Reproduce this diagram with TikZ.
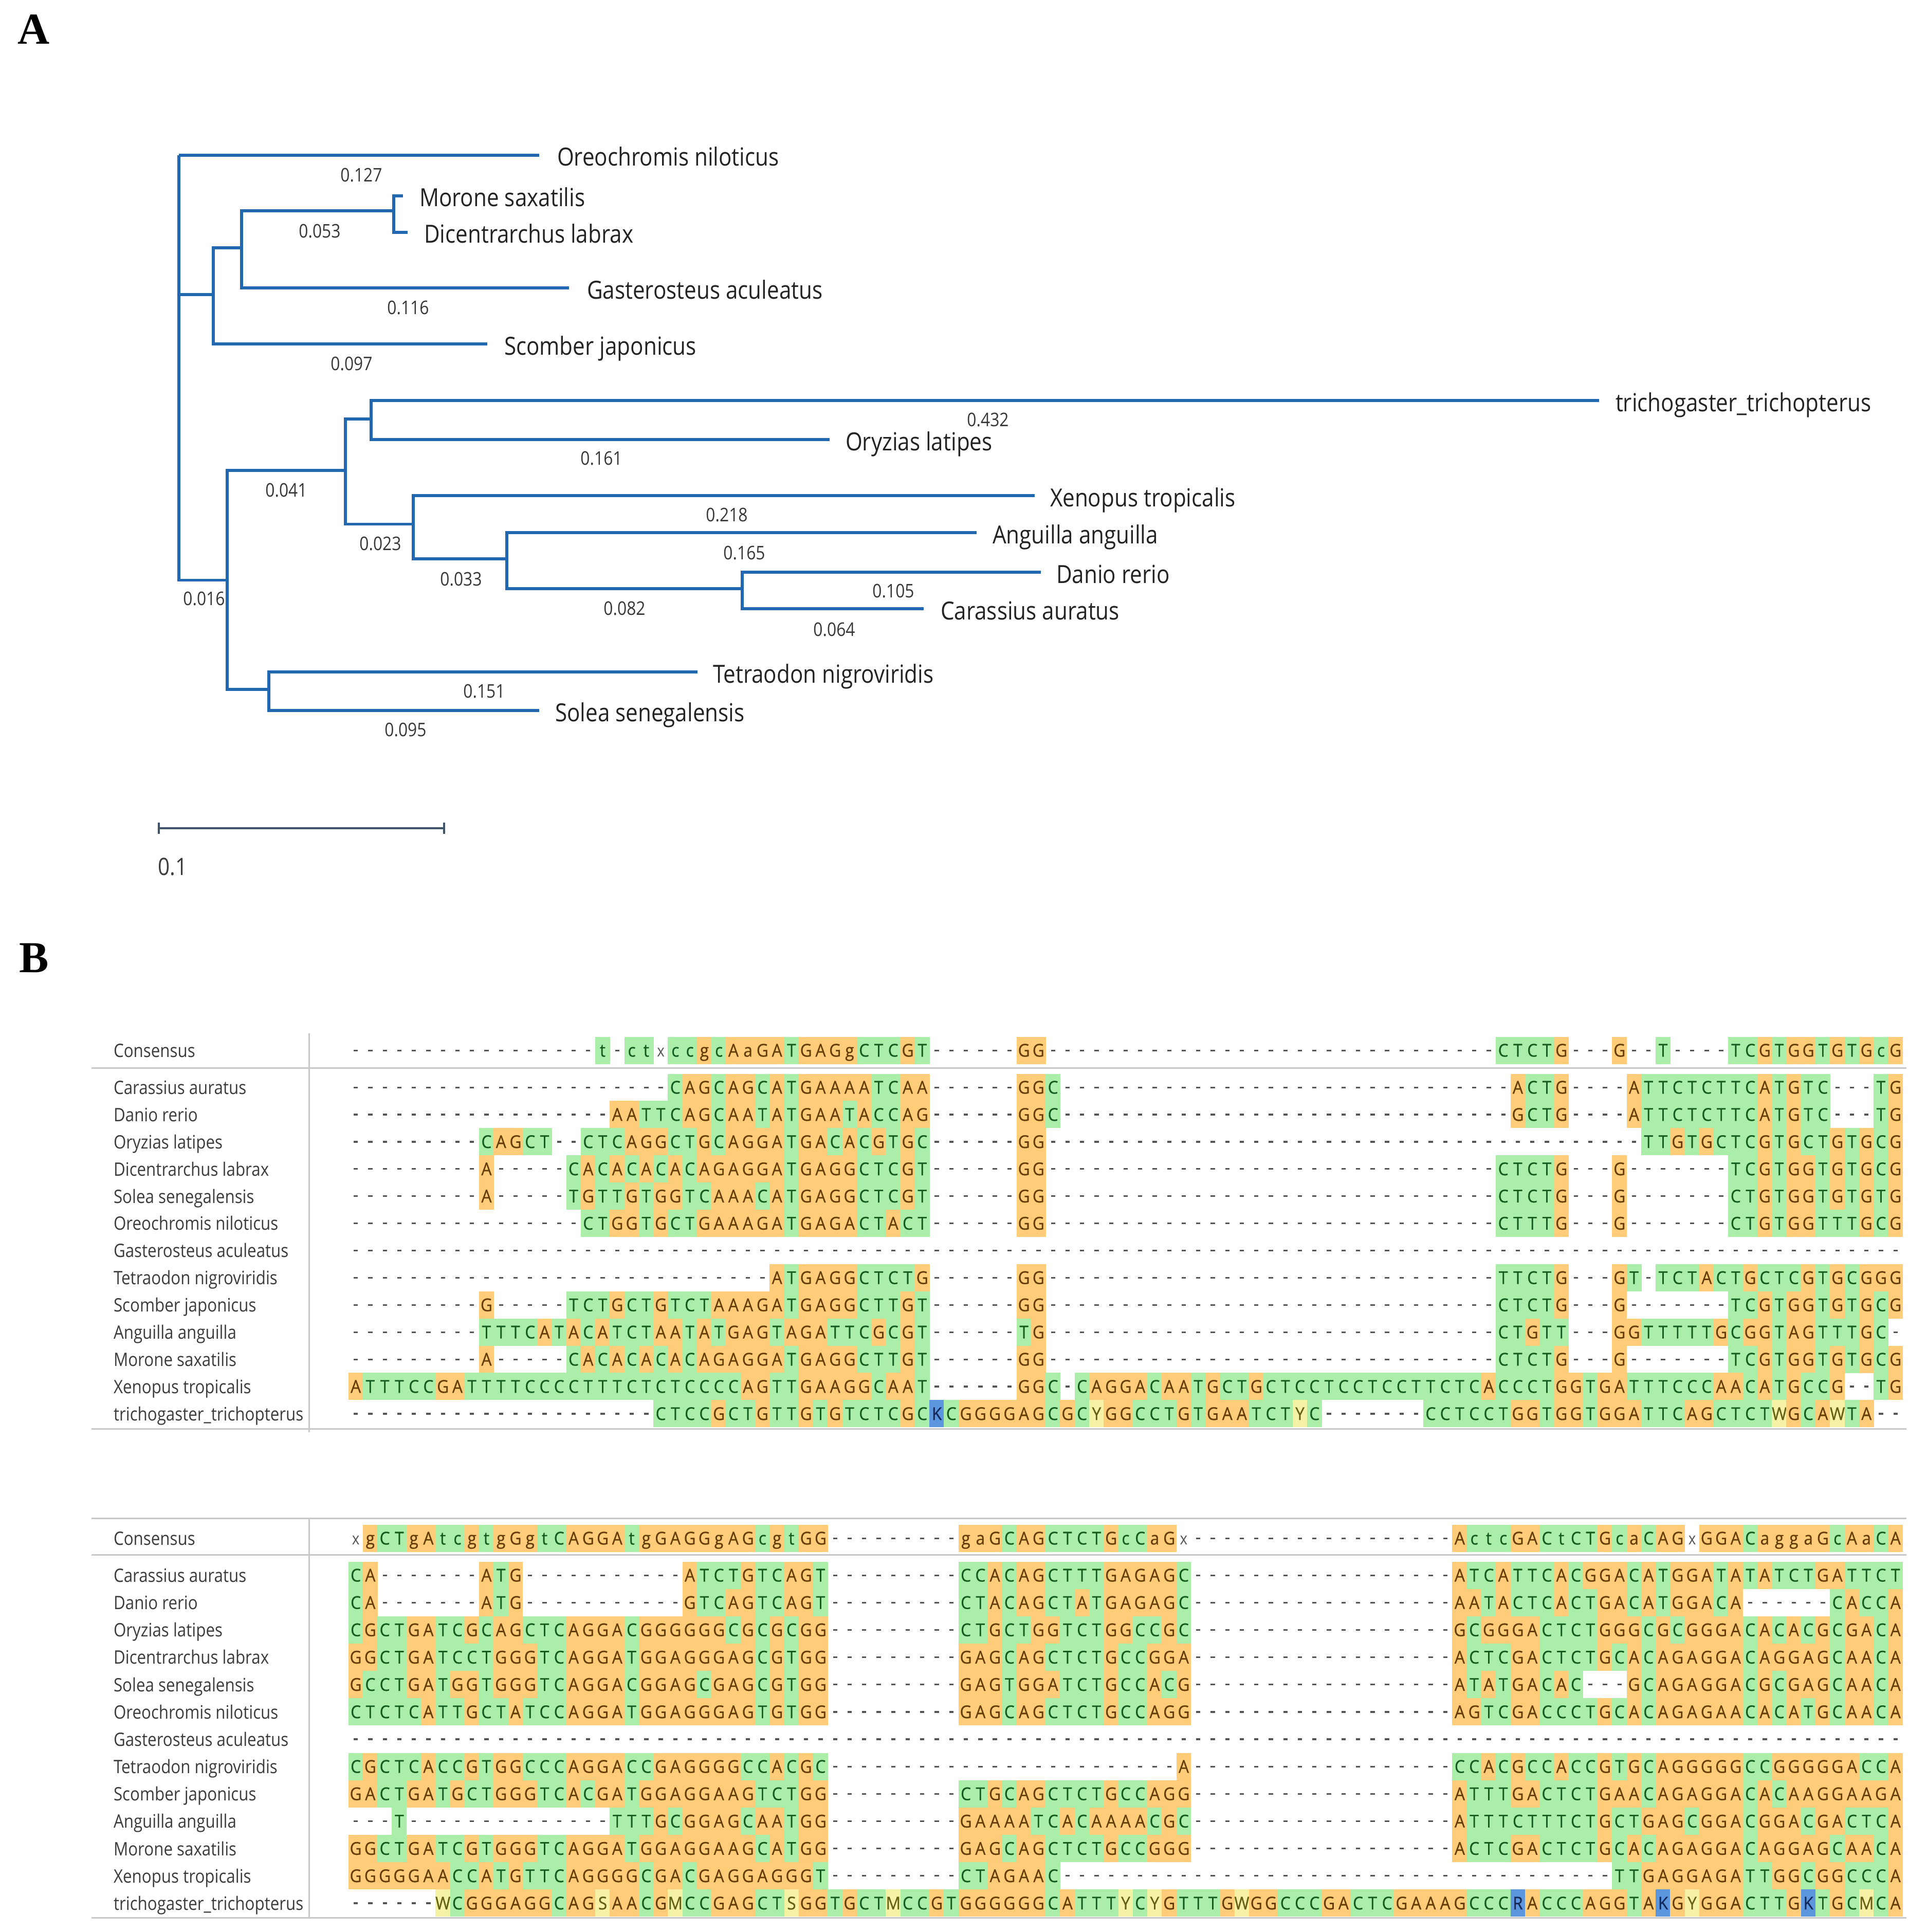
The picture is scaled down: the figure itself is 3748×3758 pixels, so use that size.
\documentclass[tikz,border=0pt]{standalone}
\usepackage{fontspec}
\setmainfont{Open Sans}
\newfontfamily\condfont[FakeStretch=0.87]{Open Sans}
\newfontfamily\seqfont[FakeStretch=0.92,FakeBold=0.6]{Open Sans}
\newfontfamily\panelfont{Liberation Serif}
\definecolor{treeblue}{RGB}{34,104,176}
\definecolor{scalec}{RGB}{62,84,104}
\definecolor{labc}{RGB}{35,35,35}
\definecolor{numc}{RGB}{55,55,55}
\definecolor{nmc}{RGB}{60,60,60}
\definecolor{oraBG}{RGB}{255,205,122}
\definecolor{oraFG}{RGB}{100,62,6}
\definecolor{grnBG}{RGB}{170,238,170}
\definecolor{grnFG}{RGB}{20,92,30}
\definecolor{bluBG}{RGB}{92,150,222}
\definecolor{bluFG}{RGB}{20,40,90}
\definecolor{yelBG}{RGB}{246,242,165}
\definecolor{yelFG}{RGB}{100,96,20}
\definecolor{dashc}{RGB}{85,85,85}
\definecolor{sepc}{RGB}{200,200,200}
\tikzset{
  br/.style={draw=treeblue,line width=1.05pt},
  sp/.style={font=\condfont\fontsize{9.7}{11}\selectfont,text=labc,inner sep=0,anchor=base west},
  num/.style={font=\condfont\fontsize{7.3}{8}\selectfont,text=numc,inner sep=0},
  nm/.style={font=\condfont\fontsize{7.2}{8}\selectfont,text=nmc,inner sep=0,anchor=base west},
  seqtxt/.style={font=\seqfont\fontsize{6.9}{7}\selectfont,inner sep=0,anchor=base},
  sepline/.style={draw=sepc,line width=0.6pt},
  panel/.style={font=\panelfont\bfseries\fontsize{17.2}{18}\selectfont,inner sep=0}
}
\newcommand\basecell[5]{\fill[#3] (#1-0.3,#2-26.5) rectangle ++(28.9,53);\node[seqtxt,text=#4] at (#1+14.13,#2+12.3) {#5};}
\newcommand\dashcell[2]{\fill[dashc] (#1+10,#2-1.5) rectangle ++(8.3,3.2);}
\newcommand\xcell[2]{\node[seqtxt,text=dashc,font=\condfont\fontsize{6.4}{7}\selectfont] at (#1+14.13,#2+12.3) {x};}
\ExplSyntaxOn
\int_new:N \l_mycol_int
\tl_new:N \l_myrow_tl
\tl_new:N \l_mycx_tl
\cs_new:Npn \dsh #1 { \prg_replicate:nn {#1} {-} }
\cs_new_protected:Npn \seqrow #1 #2
  {
    \tl_set:Nx \l_myrow_tl {#2}
    \int_zero:N \l_mycol_int
    \tl_map_inline:Nn \l_myrow_tl
      {
        \int_incr:N \l_mycol_int
        \tl_set:Nx \l_mycx_tl { \fp_eval:n { 678 + (\l_mycol_int - 1) * 28.26 } }
        \str_case:nnF {##1}
          {
            {A} { \basecell {\l_mycx_tl} {#1} {oraBG} {oraFG} {A} }
            {G} { \basecell {\l_mycx_tl} {#1} {oraBG} {oraFG} {G} }
            {C} { \basecell {\l_mycx_tl} {#1} {grnBG} {grnFG} {C} }
            {T} { \basecell {\l_mycx_tl} {#1} {grnBG} {grnFG} {T} }
            {a} { \basecell {\l_mycx_tl} {#1} {oraBG} {oraFG} {a} }
            {g} { \basecell {\l_mycx_tl} {#1} {oraBG} {oraFG} {g} }
            {c} { \basecell {\l_mycx_tl} {#1} {grnBG} {grnFG} {c} }
            {t} { \basecell {\l_mycx_tl} {#1} {grnBG} {grnFG} {t} }
            {K} { \basecell {\l_mycx_tl} {#1} {bluBG} {bluFG} {K} }
            {R} { \basecell {\l_mycx_tl} {#1} {bluBG} {bluFG} {R} }
            {Y} { \basecell {\l_mycx_tl} {#1} {yelBG} {yelFG} {Y} }
            {W} { \basecell {\l_mycx_tl} {#1} {yelBG} {yelFG} {W} }
            {S} { \basecell {\l_mycx_tl} {#1} {yelBG} {yelFG} {S} }
            {M} { \basecell {\l_mycx_tl} {#1} {yelBG} {yelFG} {M} }
            {x} { \xcell {\l_mycx_tl} {#1} }
            {-} { \dashcell {\l_mycx_tl} {#1} }
          }
          { }
      }
  }
\ExplSyntaxOff
\begin{document}
\begin{tikzpicture}[x=0.2pt,y=-0.2pt]
\useasboundingbox (0,0) rectangle (3748,3758);
\fill[white] (0,0) rectangle (3748,3758);
% panel letters
\node[panel] (lblA) at (66,57) {A};
\node[panel] (lblB) at (66,1863) {B};
% ---------- tree ----------
\coordinate (root) at (348,302);
\coordinate (ore) at (1049,302);
\coordinate (c1) at (415,573);
\coordinate (c2) at (470,482);
\coordinate (c3) at (766,410);
\coordinate (mor) at (784,381);
\coordinate (dic) at (793,452);
\coordinate (gas) at (1107,560);
\coordinate (sco) at (948,669);
\coordinate (c4) at (442,1128.5);
\coordinate (c5) at (672,915);
\coordinate (c6) at (722,815);
\coordinate (tri) at (3111,779);
\coordinate (ory) at (1614,855);
\coordinate (c7) at (804,1019.5);
\coordinate (xen) at (2013,964);
\coordinate (c8) at (986,1087);
\coordinate (ang) at (1900,1036);
\coordinate (c9) at (1444,1145);
\coordinate (dan) at (2025,1113);
\coordinate (car) at (1797,1184);
\coordinate (c10) at (523,1341);
\coordinate (tet) at (1357,1307);
\coordinate (sol) at (1049,1382);
\draw[br] (root) |- (ore);
\draw[br] (root) |- (c1);
\draw[br] (root) |- (c4);
\draw[br] (c1) |- (c2);
\draw[br] (c1) |- (sco);
\draw[br] (c2) |- (c3);
\draw[br] (c2) |- (gas);
\draw[br] (c3) |- (mor);
\draw[br] (c3) |- (dic);
\draw[br] (c4) |- (c5);
\draw[br] (c4) |- (c10);
\draw[br] (c5) |- (c6);
\draw[br] (c5) |- (c7);
\draw[br] (c6) |- (tri);
\draw[br] (c6) |- (ory);
\draw[br] (c7) |- (xen);
\draw[br] (c7) |- (c8);
\draw[br] (c8) |- (ang);
\draw[br] (c8) |- (c9);
\draw[br] (c9) |- (dan);
\draw[br] (c9) |- (car);
\draw[br] (c10) |- (tet);
\draw[br] (c10) |- (sol);
% leaf labels
\node[sp] (Lore) at (1083,323) {Oreochromis niloticus};
\node[sp] (Lmor) at (815,402) {Morone saxatilis};
\node[sp] (Ldic) at (824,473) {Dicentrarchus labrax};
\node[sp] (Lgas) at (1141,581) {Gasterosteus aculeatus};
\node[sp] (Lsco) at (980,690) {Scomber japonicus};
\node[sp] (Ltri) at (3142,800) {trichogaster\_trichopterus};
\node[sp] (Lory) at (1644,876) {Oryzias latipes};
\node[sp] (Lxen) at (2042,985) {Xenopus tropicalis};
\node[sp] (Lang) at (1930,1057) {Anguilla anguilla};
\node[sp] (Ldan) at (2054,1134) {Danio rerio};
\node[sp] (Lcar) at (1829,1205) {Carassius auratus};
\node[sp] (Ltet) at (1386,1328) {Tetraodon nigroviridis};
\node[sp] (Lsol) at (1079,1403) {Solea senegalensis};
% branch lengths
\node[num] (n1) at (703,341) {0.127};
\node[num] (n2) at (622,450) {0.053};
\node[num] (n3) at (794,599) {0.116};
\node[num] (n4) at (684,708) {0.097};
\node[num] (n5) at (557,954) {0.041};
\node[num] (n6) at (740,1058) {0.023};
\node[num] (n7) at (897,1127) {0.033};
\node[num] (n8) at (397,1165) {0.016};
\node[num] (n9) at (942,1345) {0.151};
\node[num] (n10) at (789,1420) {0.095};
\node[num] (n11) at (1170,892) {0.161};
\node[num] (n12) at (1922,817) {0.432};
\node[num] (n13) at (1414,1002) {0.218};
\node[num] (n14) at (1448,1076) {0.165};
\node[num] (n15) at (1738,1150) {0.105};
\node[num] (n16) at (1215,1184) {0.082};
\node[num] (n17) at (1623,1225) {0.064};
% scale bar
\coordinate (sbL) at (309,1611);
\coordinate (sbR) at (864,1611);
\draw[scalec,line width=0.8pt] (sbL) -- (sbR);
\draw[scalec,line width=0.8pt] (sbL) +(0,-11) -- +(0,11);
\draw[scalec,line width=0.8pt] (sbR) +(0,-11) -- +(0,11);
\node[num,font=\condfont\fontsize{9.3}{10}\selectfont,text=nmc] (sbt) at (336,1686) {0.1};
% ---------- alignment block 1 ----------
\draw[sepline] (601,2010) -- (601,2786);
\draw[sepline] (178,2077) -- (3709,2077);
\draw[sepline] (178,2779) -- (3709,2779);
\node[nm] at (220,2056) {Consensus};
\node[nm] at (220,2128) {Carassius auratus};
\node[nm] at (220,2181) {Danio rerio};
\node[nm] at (220,2234) {Oryzias latipes};
\node[nm] at (220,2287) {Dicentrarchus labrax};
\node[nm] at (220,2340) {Solea senegalensis};
\node[nm] at (220,2392) {Oreochromis niloticus};
\node[nm] at (220,2445) {Gasterosteus aculeatus};
\node[nm] at (220,2498) {Tetraodon nigroviridis};
\node[nm] at (220,2551) {Scomber japonicus};
\node[nm] at (220,2604) {Anguilla anguilla};
\node[nm] at (220,2657) {Morone saxatilis};
\node[nm] at (220,2710) {Xenopus tropicalis};
\node[nm] at (220,2763) {trichogaster\_trichopterus};
\seqrow{2043}{\dsh{17}t-ctxccgcAaGATGAGgCTCGT\dsh{6}GG\dsh{31}CTCTG\dsh{3}G\dsh{2}T\dsh{4}TCGTGGTGTGcG}
\seqrow{2115}{\dsh{22}CAGCAGCATGAAAATCAA\dsh{6}GGC\dsh{31}ACTG\dsh{4}ATTCTCTTCATGTC\dsh{3}TG}
\seqrow{2167.9}{\dsh{18}AATTCAGCAATATGAATACCAG\dsh{6}GGC\dsh{31}GCTG\dsh{4}ATTCTCTTCATGTC\dsh{3}TG}
\seqrow{2220.8}{\dsh{9}CAGCT--CTCAGGCTGCAGGATGACACGTGC\dsh{6}GG\dsh{41}TTGTGCTCGTGCTGTGCG}
\seqrow{2273.7}{\dsh{9}A\dsh{5}CACACACACAGAGGATGAGGCTCGT\dsh{6}GG\dsh{31}CTCTG\dsh{3}G\dsh{7}TCGTGGTGTGCG}
\seqrow{2326.6}{\dsh{9}A\dsh{5}TGTTGTGGTCAAACATGAGGCTCGT\dsh{6}GG\dsh{31}CTCTG\dsh{3}G\dsh{7}CTGTGGTGTGTG}
\seqrow{2379.5}{\dsh{16}CTGGTGCTGAAAGATGAGACTACT\dsh{6}GG\dsh{31}CTTTG\dsh{3}G\dsh{7}CTGTGGTTTGCG}
\seqrow{2432.4}{\dsh{107}}
\seqrow{2485.3}{\dsh{29}ATGAGGCTCTG\dsh{6}GG\dsh{31}TTCTG\dsh{3}GT-TCTACTGCTCGTGCGGG}
\seqrow{2538.2}{\dsh{9}G\dsh{5}TCTGCTGTCTAAAGATGAGGCTTGT\dsh{6}GG\dsh{31}CTCTG\dsh{3}G\dsh{7}TCGTGGTGTGCG}
\seqrow{2591.1}{\dsh{9}TTTCATACATCTAATATGAGTAGATTCGCGT\dsh{6}TG\dsh{31}CTGTT\dsh{3}GGTTTTTGCGGTAGTTTGC-}
\seqrow{2644}{\dsh{9}A\dsh{5}CACACACACAGAGGATGAGGCTTGT\dsh{6}GG\dsh{31}CTCTG\dsh{3}G\dsh{7}TCGTGGTGTGCG}
\seqrow{2696.9}{ATTTCCGATTTTCCCCTTTCTCTCCCCAGTTGAAGGCAAT\dsh{6}GGC-CAGGACAATGCTGCTCCTCCTCCTTCTCACCCTGGTGATTTCCCAACATGCCG--TG}
\seqrow{2749.8}{\dsh{21}CTCCGCTGTTGTGTCTCGCKCGGGGAGCGCYGGCCTGTGAATCTYC\dsh{7}CCTCCTGGTGGTGGATTCAGCTCTWGCAWTA--}
% ---------- alignment block 2 ----------
\draw[sepline] (601,2953) -- (601,3732);
\draw[sepline] (178,2953) -- (3709,2953);
\draw[sepline] (178,3024) -- (3709,3024);
\draw[sepline] (178,3730) -- (3709,3730);
\node[nm] at (220,3005) {Consensus};
\node[nm] at (220,3077) {Carassius auratus};
\node[nm] at (220,3130) {Danio rerio};
\node[nm] at (220,3183) {Oryzias latipes};
\node[nm] at (220,3236) {Dicentrarchus labrax};
\node[nm] at (220,3290) {Solea senegalensis};
\node[nm] at (220,3343) {Oreochromis niloticus};
\node[nm] at (220,3396) {Gasterosteus aculeatus};
\node[nm] at (220,3449) {Tetraodon nigroviridis};
\node[nm] at (220,3502) {Scomber japonicus};
\node[nm] at (220,3555) {Anguilla anguilla};
\node[nm] at (220,3609) {Morone saxatilis};
\node[nm] at (220,3662) {Xenopus tropicalis};
\node[nm] at (220,3715) {trichogaster\_trichopterus};
\seqrow{2992}{xgCTgAtcgtgGgtCAGGAtgGAGGgAGcgtGG\dsh{9}gaGCAGCTCTGcCaGx\dsh{18}ActcGACtCTGcaCAGxGGACaggaGcAaCA}
\seqrow{3064}{CA\dsh{7}ATG\dsh{11}ATCTGTCAGT\dsh{9}CCACAGCTTTGAGAGC\dsh{18}ATCATTCACGGACATGGATATATCTGATTCT}
\seqrow{3117.2}{CA\dsh{7}ATG\dsh{11}GTCAGTCAGT\dsh{9}CTACAGCTATGAGAGC\dsh{18}AATACTCACTGACATGGACA\dsh{6}CACCA}
\seqrow{3170.3}{CGCTGATCGCAGCTCAGGACGGGGGGCGCGCGG\dsh{9}CTGCTGGTCTGGCCGC\dsh{18}GCGGGACTCTGGGCGCGGGACACACGCGACA}
\seqrow{3223.5}{GGCTGATCCTGGGTCAGGATGGAGGGAGCGTGG\dsh{9}GAGCAGCTCTGCCGGA\dsh{18}ACTCGACTCTGCACAGAGGACAGGAGCAACA}
\seqrow{3276.6}{GCCTGATGGTGGGTCAGGACGGAGCGAGCGTGG\dsh{9}GAGTGGATCTGCCACG\dsh{18}ATATGACAC---GCAGAGGACGCGAGCAACA}
\seqrow{3329.8}{CTCTCATTGCTATCCAGGATGGAGGGAGTGTGG\dsh{9}GAGCAGCTCTGCCAGG\dsh{18}AGTCGACCCTGCACAGAGAACACATGCAACA}
\seqrow{3382.9}{\dsh{107}}
\seqrow{3436.1}{CGCTCACCGTGGCCCAGGACCGAGGGGCCACGC\dsh{24}A\dsh{18}CCACGCCACCGTGCAGGGGGCCGGGGGACCA}
\seqrow{3489.2}{GACTGATGCTGGGTCACGATGGAGGAAGTCTGG\dsh{9}CTGCAGCTCTGCCAGG\dsh{18}ATTTGACTCTGAACAGAGGACACAAGGAAGA}
\seqrow{3542.4}{---T\dsh{14}TTTGCGGAGCAATGG\dsh{9}GAAAATCACAAAACGC\dsh{18}ATTTCTTTCTGCTGAGCGGACGGACGACTCA}
\seqrow{3595.5}{GGCTGATCGTGGGTCAGGATGGAGGAAGCATGG\dsh{9}GAGCAGCTCTGCCGGG\dsh{18}ACTCGACTCTGCACAGAGGACAGGAGCAACA}
\seqrow{3648.7}{GGGGGAACCATGTTCAGGGGCGACGAGGAGGGT\dsh{9}CTAGAAC\dsh{38}TTGAGGAGATTGGCGGCCCA}
\seqrow{3701.8}{\dsh{6}WCGGGAGGCAGSAACGMCCGAGCTSGGTGCTMCCGTGGGGGGCATTTYCYGTTTGWGGCCCGACTCGAAAGCCCRACCCAGGTAKGYGGACTTGKTGCMCA}
\end{tikzpicture}
\end{document}
